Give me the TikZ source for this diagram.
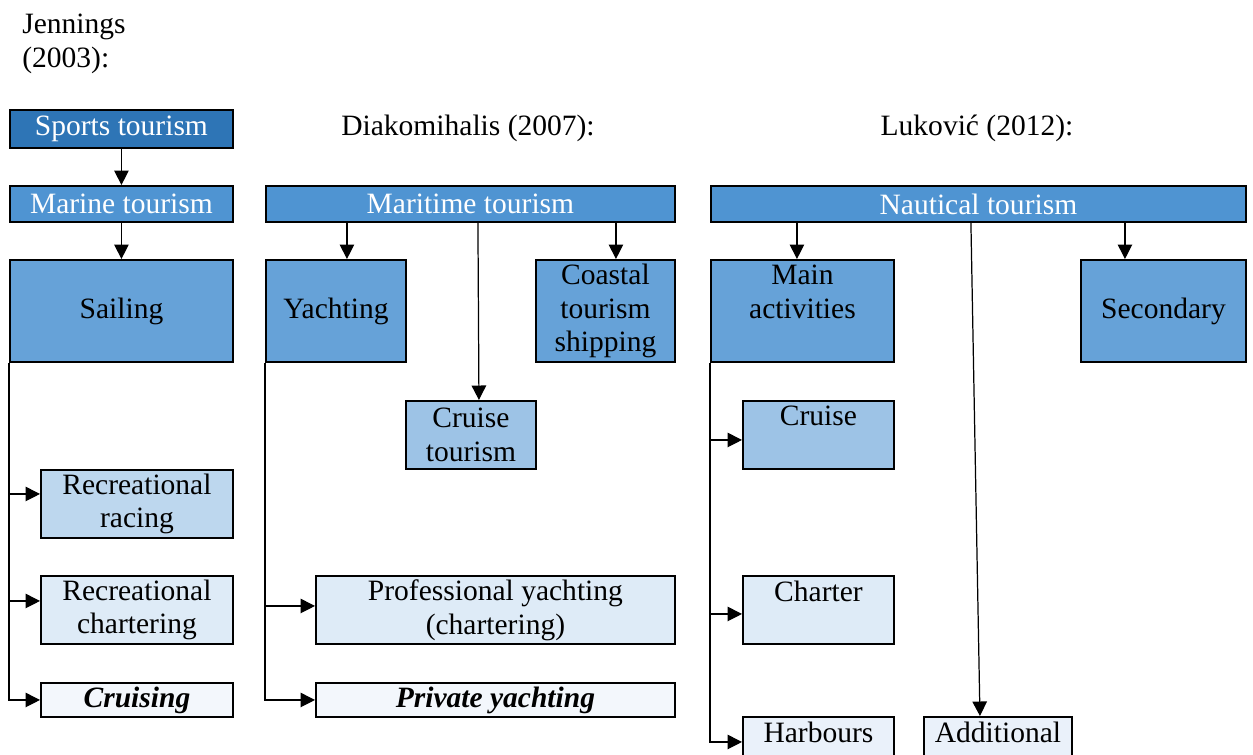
\documentclass[tikz,border=0pt]{standalone}
\usepackage{fontspec}
\setmainfont{Liberation Serif}
\usetikzlibrary{positioning,arrows.meta}
\definecolor{dblue}{HTML}{2E75B6}
\definecolor{mblue}{HTML}{4F94D2}
\definecolor{sblue}{HTML}{66A2D8}
\definecolor{cblue}{HTML}{9DC3E6}
\definecolor{rblue}{HTML}{BDD7EE}
\definecolor{lblue}{HTML}{DEEBF7}
\definecolor{pblue}{HTML}{F3F7FC}
\definecolor{hblue}{HTML}{EAF1FA}
\tikzset{
  every node/.append style={font=\fontsize{16.8}{19.3}\selectfont},
  box/.style={draw=black, line width=1.1pt, align=center, inner sep=1pt, anchor=north west},
  hbox/.style={box, fill=mblue, text=white, minimum height=0.72cm},
  bbox/.style={box, fill=sblue, minimum height=2.04cm},
  mbox/.style={box, minimum height=1.36cm},
  tbox/.style={box, fill=pblue, minimum height=0.68cm,
               font=\fontsize{16.8}{19.3}\selectfont\bfseries\itshape},
  hdr/.style={inner sep=0pt},
  arr/.style={-{Triangle[length=0.29cm,width=0.29cm]}, line width=0.7pt},
}
\begin{document}
\begin{tikzpicture}[x=0.02cm,y=-0.02cm]
  \useasboundingbox (0,0) rectangle (1253,754);
  \clip (0,0) rectangle (1253,754);
  % --- headings ---
  \node[hdr,anchor=north west,align=left] (jen) at (22,14) {Jennings\\(2003):};
  \node[hdr] (dia) at (468,128) {Diakomihalis (2007):};
  \node[hdr] (luk) at (977,128) {Luković (2012):};
  % --- Jennings ---
  \node[hbox, fill=dblue, minimum width=4.46cm, minimum height=0.76cm] (sport) at (9,109) {Sports tourism};
  \node[hbox, minimum width=4.46cm] (marine) at (9,185) {Marine tourism};
  \node[bbox, minimum width=4.46cm] (sail) at (9,259) {Sailing};
  \node[mbox, fill=rblue, minimum width=3.84cm] (rrace) at (40,469) {Recreational\\racing};
  \node[mbox, fill=lblue, minimum width=3.84cm] (rchart) at (40,575) {Recreational\\chartering};
  \node[tbox, minimum width=3.84cm] (cruising) at (40,682) {Cruising};
  \draw[arr] (sport) -- (marine);
  \draw[arr] (marine) -- (sail);
  \draw[arr] (sail.south west) |- ([yshift=0.2cm]rrace.west);
  \draw[arr] (sail.south west) |- ([yshift=0.18cm]rchart.west);
  \draw[arr] (sail.south west) |- (cruising.west);
  % --- Diakomihalis ---
  \node[hbox, minimum width=8.18cm] (marit) at (265,185) {Maritime tourism};
  \node[bbox, minimum width=2.8cm] (yacht) at (265,259) {Yachting};
  \node[bbox, minimum width=2.78cm] (coast) at (535,259) {Coastal\\tourism\\shipping};
  \node[mbox, fill=cblue, minimum width=2.6cm] (cruiset) at (405,400) {Cruise\\tourism};
  \node[mbox, fill=lblue, minimum width=7.18cm] (profy) at (315,575) {Professional yachting\\(chartering)};
  \node[tbox, minimum width=7.18cm] (privy) at (315,682) {Private yachting};
  \draw[arr] ([xshift=0.22cm]yacht.north |- marit.south) -- ([xshift=0.22cm]yacht.north);
  \draw[arr] ([xshift=0.21cm]coast.north |- marit.south) -- ([xshift=0.21cm]coast.north);
  \draw[arr] ([xshift=0.15cm]marit.south) -- ([xshift=0.16cm]cruiset.north);
  \draw[arr] (yacht.south west) |- ([yshift=0.08cm]profy.west);
  \draw[arr] (yacht.south west) |- (privy.west);
  % --- Lukovic ---
  \node[hbox, minimum width=10.7cm] (naut) at (710,185) {Nautical tourism};
  \node[bbox, minimum width=3.66cm] (mainact) at (710,259) {};
  \node[anchor=north, align=center] (mainlbl) at (mainact.north) {Main\\activities};
  \node[bbox, minimum width=3.3cm] (second) at (1080,259) {Secondary};
  \node[mbox, fill=cblue, minimum width=3.02cm] (cruise) at (742,400) {};
  \node[anchor=north] (cruiselbl) at (cruise.north) {Cruise};
  \node[mbox, fill=lblue, minimum width=3.02cm] (charter) at (742,575) {};
  \node[anchor=north] (charterlbl) at (charter.north) {Charter};
  \node[mbox, fill=hblue, minimum width=3.02cm] (harb) at (742,716) {};
  \node[anchor=north] (harblbl) at (harb.north) {Harbours};
  \node[mbox, fill=hblue, minimum width=2.96cm] (addit) at (923,716) {};
  \node[anchor=north] (additlbl) at (addit.north) {Additional};
  \draw[arr] ([xshift=-0.11cm]mainact.north |- naut.south) -- ([xshift=-0.11cm]mainact.north);
  \draw[arr] ([xshift=-0.77cm]second.north |- naut.south) -- ([xshift=-0.77cm]second.north);
  \draw[arr] ([xshift=-0.15cm]naut.south) -- ([xshift=-0.36cm]addit.north);
  \draw[arr] (mainact.south west) |- ([yshift=-0.1cm]cruise.west);
  \draw[arr] (mainact.south west) |- ([yshift=-0.08cm]charter.west);
  \draw[arr] (mainact.south west) |- ([yshift=0.18cm]harb.west);
\end{tikzpicture}
\end{document}
